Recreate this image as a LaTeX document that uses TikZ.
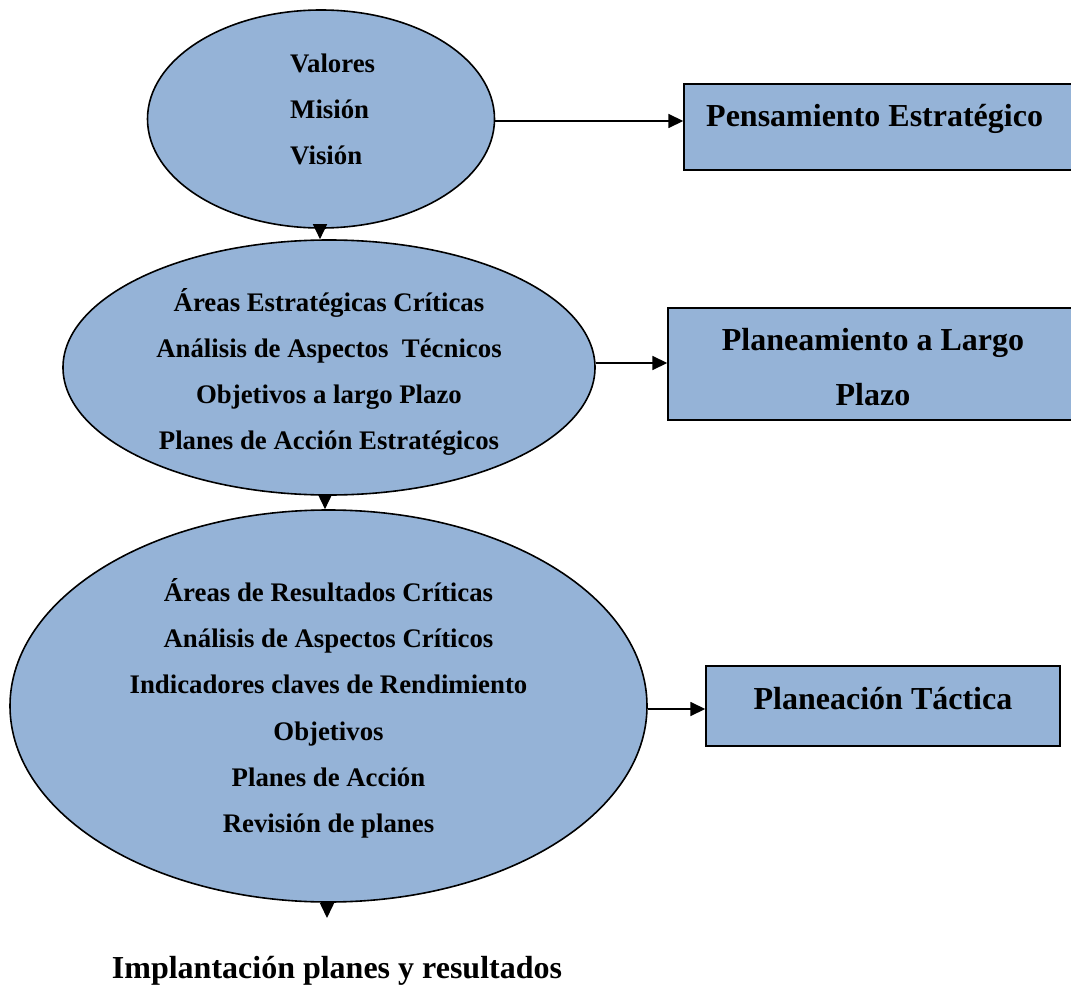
\documentclass[tikz,border=0pt]{standalone}
\usepackage{fontspec}
\setmainfont{Liberation Serif}
\usetikzlibrary{shapes.geometric,arrows.meta}
\definecolor{fillblue}{HTML}{95B3D7}
\begin{document}
\begin{tikzpicture}[x=1pt,y=-1pt,
  oval/.style={ellipse,draw=black,line width=1.6pt,fill=fillblue,inner sep=0pt},
  panel/.style={rectangle,draw=black,line width=1.4pt,fill=fillblue,inner sep=0pt},
  ovaltext/.style={align=center,font=\bfseries\fontsize{26.8}{46.3}\selectfont,inner sep=0pt},
  paneltext/.style={align=center,font=\bfseries\fontsize{32}{55}\selectfont,inner sep=0pt},
  link/.style={line width=1.6pt,-{Triangle[length=15pt,width=14pt]}}]
\clip (0,0) rectangle (1071,987);
\fill[white] (0,0) rectangle (1071,987);

% stage ellipses
\node[oval,minimum width=347,minimum height=218] (e1) at (321,119) {};
\node[oval,minimum width=532,minimum height=255] (e2) at (329,367.5) {};
\node[oval,minimum width=637,minimum height=392] (e3) at (328.5,706) {};

% right-hand boxes
\node[panel,minimum width=400,minimum height=86] (b1) at (884,127) {};
\node[panel,minimum width=420,minimum height=112] (b2) at (878,364) {};
\node[panel,minimum width=354,minimum height=80] (b3) at (883,706) {};

% texts
\node[ovaltext,align=left,anchor=west] (t1) at (290,109.5) {Valores\\Misión\\Visión};
\node[ovaltext] (t2) at (329,372) {Áreas Estratégicas Críticas\\Análisis de Aspectos\ \ Técnicos\\Objetivos a largo Plazo\\Planes de Acción Estratégicos};
\node[ovaltext] (t3) at (328.5,708.5) {Áreas de Resultados Críticas\\Análisis de Aspectos Críticos\\Indicadores claves de Rendimiento\\Objetivos\\Planes de Acción\\Revisión de planes};
\node[paneltext,anchor=west] (p1) at (706,118.5) {Pensamiento Estratégico};
\node[paneltext] (p2) at (873,367) {Planeamiento a Largo\\Plazo};
\node[paneltext] (p3) at (883,699) {Planeación Táctica};
\node[paneltext] (fin) at (337,971) {Implantación planes y resultados};

% connectors
\draw[link] (e1.east |- 0,121) -- (b1.west |- 0,121);
\draw[link] (e2.east |- 0,363) -- (b2.west |- 0,363);
\draw[link] (e3.east |- 0,709) -- (b3.west |- 0,709);
\draw[link] (e1.south -| 320,0) -- (e2.north -| 320,0);
\draw[link] (325,494) -- (e3.north -| 325,0);
\coordinate (end) at (327,918);
\draw[link,shorten <=2pt] (e3.south -| 327,0) -- (end);
\end{tikzpicture}
\end{document}
